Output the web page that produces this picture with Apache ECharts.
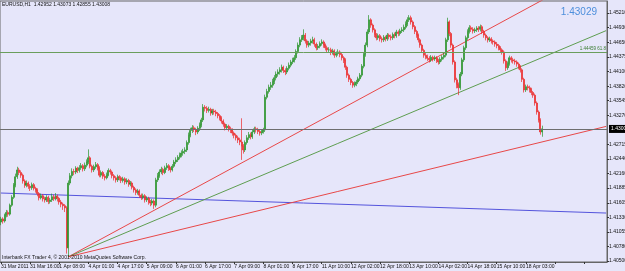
<!DOCTYPE html>
<html>
<head>
<meta charset="utf-8">
<script src="https://cdn.jsdelivr.net/npm/echarts@6/dist/echarts.min.js"></script>
<style>
  html, body { margin: 0; padding: 0; background: #e6e6fa; }
  #main { width: 625px; height: 271px; }
</style>
</head>
<body>
<div id="main"></div>
<script>
// EURUSD H1, hourly bars from 31 Mar 2011 00:00 to 18 Apr 12:00
// each row: [open, close, low, high] in 1/10000 above 1.0000 (4128 = 1.4128)
var candles = [
  [4124,4130,4118,4134],[4130,4126,4121,4133],[4126,4137,4123,4140],[4137,4142,4133,4147],[4142,4139,4134,4146],[4139,4156,4136,4159],
  [4156,4171,4153,4175],[4171,4194,4168,4198],[4194,4210,4190,4216],[4210,4223,4206,4229],[4223,4218,4213,4227],[4218,4213,4208,4222],
  [4213,4202,4197,4216],[4202,4194,4189,4205],[4194,4198,4190,4203],[4198,4192,4187,4201],[4192,4189,4183,4196],[4189,4195,4185,4199],
  [4195,4188,4184,4198],[4188,4185,4180,4191],[4185,4178,4173,4188],[4178,4170,4165,4181],[4170,4174,4167,4178],[4174,4168,4163,4177],
  [4168,4166,4161,4172],[4166,4171,4162,4175],[4171,4163,4158,4174],[4163,4166,4159,4170],[4166,4172,4162,4178],[4172,4168,4164,4176],
  [4168,4173,4165,4179],[4173,4169,4163,4176],[4169,4162,4157,4172],[4162,4158,4152,4166],[4158,4155,4147,4161],[4155,4151,4143,4158],
  [4151,4075,4064,4154],[4075,4198,4058,4203],[4198,4212,4194,4217],[4212,4220,4207,4226],[4220,4219,4213,4225],[4219,4226,4215,4230],
  [4226,4222,4217,4229],[4222,4227,4218,4232],[4227,4231,4223,4236],[4231,4225,4220,4234],[4225,4232,4221,4237],[4232,4238,4228,4243],
  [4238,4246,4234,4262],[4246,4230,4226,4249],[4230,4223,4218,4233],[4223,4229,4219,4233],[4229,4233,4225,4238],[4233,4227,4222,4236],
  [4227,4213,4209,4230],[4213,4218,4209,4222],[4218,4211,4206,4221],[4211,4208,4203,4215],[4208,4214,4205,4218],[4214,4222,4211,4226],
  [4222,4219,4214,4225],[4219,4212,4207,4222],[4212,4208,4203,4215],[4208,4204,4199,4211],[4204,4210,4200,4214],[4210,4208,4203,4213],
  [4208,4203,4198,4211],[4203,4206,4199,4210],[4206,4200,4195,4209],[4200,4203,4196,4207],[4203,4196,4191,4206],[4196,4198,4192,4202],
  [4198,4190,4186,4201],[4190,4185,4180,4193],[4185,4180,4175,4188],[4180,4183,4176,4187],[4183,4175,4170,4186],[4175,4171,4166,4178],
  [4171,4174,4167,4178],[4174,4166,4161,4177],[4166,4169,4162,4173],[4169,4162,4157,4172],[4162,4160,4154,4166],[4160,4164,4156,4168],
  [4164,4156,4149,4167],[4156,4204,4152,4208],[4204,4212,4200,4217],[4212,4219,4208,4224],[4219,4224,4215,4229],[4224,4218,4213,4227],
  [4218,4227,4215,4231],[4227,4231,4223,4236],[4231,4226,4221,4234],[4226,4223,4218,4229],[4223,4230,4220,4234],[4230,4238,4227,4242],
  [4238,4242,4234,4247],[4242,4247,4238,4251],[4247,4251,4243,4256],[4251,4255,4247,4260],[4255,4258,4250,4263],[4258,4261,4253,4266],
  [4261,4275,4257,4279],[4275,4289,4271,4294],[4289,4298,4285,4303],[4298,4303,4293,4308],[4303,4300,4295,4307],[4300,4295,4289,4303],
  [4295,4302,4291,4306],[4302,4308,4297,4313],[4308,4318,4304,4322],[4318,4342,4314,4348],[4342,4340,4334,4346],[4340,4336,4331,4344],
  [4336,4338,4332,4343],[4338,4331,4326,4341],[4331,4335,4327,4339],[4335,4333,4328,4339],[4333,4330,4325,4337],[4330,4326,4321,4333],
  [4326,4322,4317,4329],[4322,4316,4311,4325],[4316,4310,4305,4319],[4310,4303,4298,4313],[4303,4306,4299,4310],[4306,4301,4296,4309],
  [4301,4299,4293,4305],[4299,4293,4288,4302],[4293,4289,4283,4296],[4289,4284,4279,4292],[4284,4280,4274,4288],[4280,4276,4270,4284],
  [4276,4268,4242,4321],[4268,4261,4254,4272],[4261,4275,4257,4279],[4275,4284,4271,4289],[4284,4290,4280,4295],[4290,4286,4281,4294],
  [4286,4295,4282,4299],[4295,4301,4291,4305],[4301,4299,4294,4305],[4299,4296,4291,4303],[4296,4293,4288,4300],[4293,4296,4289,4300],
  [4296,4299,4292,4303],[4299,4361,4295,4366],[4361,4372,4357,4377],[4372,4380,4368,4385],[4380,4384,4375,4390],[4384,4391,4379,4396],
  [4391,4398,4386,4403],[4398,4405,4393,4410],[4405,4409,4400,4414],[4409,4413,4404,4418],[4413,4418,4408,4423],[4418,4412,4407,4421],
  [4412,4409,4403,4416],[4409,4416,4405,4420],[4416,4422,4412,4427],[4422,4428,4418,4432],[4428,4431,4424,4436],[4431,4436,4427,4441],
  [4436,4448,4432,4452],[4448,4460,4444,4465],[4460,4470,4456,4475],[4470,4474,4466,4479],[4474,4479,4469,4490],[4479,4468,4463,4483],
  [4468,4460,4455,4471],[4460,4464,4456,4468],[4464,4468,4459,4472],[4468,4470,4463,4476],[4470,4462,4457,4474],[4462,4455,4450,4465],
  [4455,4458,4451,4462],[4458,4463,4454,4467],[4463,4466,4459,4471],[4466,4460,4455,4469],[4460,4455,4450,4463],[4455,4451,4446,4459],
  [4451,4451,4446,4456],[4451,4446,4441,4455],[4446,4449,4442,4453],[4449,4441,4436,4452],[4441,4444,4437,4448],[4444,4447,4440,4452],
  [4447,4442,4437,4450],[4442,4436,4431,4445],[4436,4432,4426,4439],[4432,4418,4413,4435],[4418,4403,4398,4421],[4403,4395,4390,4406],
  [4395,4389,4384,4398],[4389,4384,4379,4392],[4384,4387,4380,4391],[4387,4390,4382,4394],[4390,4396,4386,4400],[4396,4403,4392,4407],
  [4403,4420,4399,4424],[4420,4442,4416,4446],[4442,4460,4438,4465],[4460,4485,4456,4490],[4485,4508,4481,4517],[4508,4498,4493,4511],
  [4498,4489,4484,4501],[4489,4480,4475,4492],[4480,4474,4469,4483],[4474,4478,4470,4482],[4478,4472,4467,4481],[4472,4470,4465,4476],
  [4470,4475,4466,4479],[4475,4472,4467,4478],[4472,4479,4468,4483],[4479,4476,4471,4482],[4476,4474,4469,4480],[4474,4480,4470,4484],
  [4480,4478,4473,4484],[4478,4485,4474,4489],[4485,4482,4477,4488],[4482,4487,4478,4491],[4487,4489,4483,4494],[4489,4494,4485,4499],
  [4494,4500,4490,4505],[4500,4508,4496,4513],[4508,4512,4504,4517],[4512,4504,4499,4516],[4504,4495,4490,4507],[4495,4486,4481,4498],
  [4486,4479,4474,4489],[4479,4470,4465,4482],[4470,4460,4455,4473],[4460,4450,4445,4463],[4450,4441,4436,4453],[4441,4438,4433,4445],
  [4438,4435,4430,4442],[4435,4432,4427,4439],[4432,4437,4428,4441],[4437,4434,4429,4440],[4434,4436,4430,4440],[4436,4431,4426,4439],
  [4431,4428,4423,4434],[4428,4433,4424,4437],[4433,4437,4429,4441],[4437,4441,4433,4446],[4441,4470,4437,4474],[4470,4504,4466,4512],
  [4504,4482,4477,4507],[4482,4460,4455,4485],[4460,4428,4423,4463],[4428,4394,4389,4431],[4394,4385,4378,4398],[4385,4379,4365,4389],
  [4379,4405,4375,4409],[4405,4432,4401,4436],[4432,4455,4428,4459],[4455,4474,4451,4478],[4474,4486,4470,4490],[4486,4493,4482,4498],
  [4493,4490,4485,4497],[4490,4487,4482,4494],[4487,4489,4483,4493],[4489,4492,4485,4496],[4492,4490,4485,4496],[4490,4495,4486,4499],
  [4495,4486,4481,4498],[4486,4479,4474,4489],[4479,4474,4469,4482],[4474,4470,4465,4477],[4470,4472,4466,4476],[4472,4468,4463,4475],
  [4468,4466,4461,4471],[4466,4462,4457,4469],[4462,4459,4454,4466],[4459,4455,4450,4462],[4455,4451,4446,4458],[4451,4447,4442,4454],
  [4447,4430,4425,4450],[4430,4417,4411,4433],[4417,4425,4413,4429],[4425,4436,4421,4440],[4436,4432,4427,4439],[4432,4430,4425,4436],
  [4430,4428,4423,4434],[4428,4424,4419,4431],[4424,4419,4414,4427],[4419,4413,4408,4422],[4413,4395,4390,4416],[4395,4375,4370,4398],
  [4375,4381,4371,4385],[4381,4379,4374,4385],[4379,4376,4370,4383],[4376,4370,4365,4379],[4370,4365,4360,4373],[4365,4350,4345,4368],
  [4350,4333,4328,4353],[4333,4318,4313,4336],[4318,4295,4290,4321],[4295,4301,4286,4307]
];

// labels every 16 bars
var tickLabels = ['31 Mar 2011', '31 Mar 16:00', '1 Apr 08:00', '4 Apr 01:00', '4 Apr 17:00', '5 Apr 09:00',
  '6 Apr 01:00', '6 Apr 17:00', '7 Apr 09:00', '8 Apr 01:00', '8 Apr 17:00', '11 Apr 10:00', '12 Apr 02:00',
  '12 Apr 18:00', '13 Apr 10:00', '14 Apr 02:00', '14 Apr 18:00', '15 Apr 10:00', '18 Apr 03:00'];

var priceTicks = [1.40500, 1.40780, 1.41055, 1.41330, 1.41605, 1.41885, 1.42160, 1.42440, 1.42715,
  1.43270, 1.43545, 1.43820, 1.44100, 1.44375, 1.44650, 1.44930, 1.45210];

var slotCount = 333;          // bar slots across the chart incl. empty space on the right
var bidPrice = 1.43008;
var askPrice = 1.43029;
var fibLevel = 1.44459;
var ohlcTitle = 'EURUSD,H1  1.42952 1.43073 1.42855 1.43008';

// trend lines: [startBar, startPrice, endBar, endPrice]
var fanRedUpper = [37, 1.40580, 332, 1.46111];
var fanGreen = [37, 1.40580, 332, 1.44875];
var fanRedLower = [37, 1.40580, 332, 1.43056];
var blueLine = [0, 1.41791, 332, 1.41411];

var cats = [];
for (var i = 0; i < slotCount; i++) cats.push(i);

var data = candles.map(function (r) {
  return [1 + r[0] / 10000, 1 + r[1] / 10000, 1 + r[2] / 10000, 1 + r[3] / 10000];
});

function seg(l, color) {
  return {
    type: 'line', data: [[l[0], l[1]], [l[2], l[3]]], symbol: 'none', silent: true,
    clip: true, lineStyle: { color: color, width: 1 }, z: 1
  };
}

var chart = echarts.init(document.getElementById('main'));
var font = 'Liberation Sans';

chart.setOption({
  animation: false,
  backgroundColor: '#e6e6fa',
  textStyle: { fontFamily: font },
  title: [
    { text: ohlcTitle, left: 2, top: 2, padding: 0,
      textStyle: { fontSize: 5, fontWeight: 'normal', color: '#111', fontFamily: font } },
    { text: askPrice.toFixed(5), right: 28, top: 7, padding: 0,
      textStyle: { fontSize: 10, fontWeight: 'normal', color: '#4d8fdc', fontFamily: font } },
    { text: 'Interbank FX Trader 4, © 2001-2010 MetaQuotes Software Corp.', left: 2, top: 255, padding: 0,
      textStyle: { fontSize: 5, fontWeight: 'normal', color: '#111', fontFamily: font } }
  ],
  grid: { left: 0, right: 18, top: 1, bottom: 9, show: true, borderColor: '#666', borderWidth: 1,
    backgroundColor: 'transparent', containLabel: false, outerBoundsMode: 'none' },
  xAxis: {
    type: 'category', data: cats, boundaryGap: true,
    axisLine: { lineStyle: { color: '#666' } },
    axisTick: { show: true, interval: 15, alignWithLabel: true, length: 2, lineStyle: { color: '#333' } },
    axisLabel: {
      interval: 15, align: 'left', margin: 2, fontSize: 5, color: '#111', fontFamily: font,
      formatter: function (v, idx) { return tickLabels[idx / 16] || ''; }
    },
    splitLine: { show: false }
  },
  yAxis: {
    type: 'value', position: 'right', scale: true,
    min: 1.40481, max: 1.45438,
    axisLine: { show: true, lineStyle: { color: '#666' } },
    axisTick: { show: true, length: 2, customValues: priceTicks, lineStyle: { color: '#333' } },
    axisLabel: {
      customValues: priceTicks, margin: 2, fontSize: 5, color: '#111', fontFamily: font,
      formatter: function (v) { return v.toFixed(5); }
    },
    splitLine: { show: false }
  },
  series: [
    seg(blueLine, '#5454dc'),
    seg(fanRedUpper, '#e84848'),
    seg(fanGreen, '#5e9e50'),
    seg(fanRedLower, '#e84848'),
    {
      type: 'candlestick', data: data, barWidth: 1.5, z: 3,
      itemStyle: {
        color: '#2a942a', color0: '#ec2a2a',
        borderColor: '#2a942a', borderColor0: '#ec2a2a', borderWidth: 0.7
      },
      markLine: {
        silent: true, symbol: 'none', animation: false, precision: 5,
        data: [
          { yAxis: bidPrice, lineStyle: { color: '#6e6e6e', width: 1, type: 'solid' },
            label: { show: true, position: 'end', distance: 2, formatter: bidPrice.toFixed(5),
              backgroundColor: '#000', color: '#fff', fontSize: 5, padding: [2, 2, 1, 2], fontFamily: font } },
          { yAxis: fibLevel, lineStyle: { color: '#6a9e5c', width: 1, type: 'solid' },
            label: { show: true, position: 'insideEndTop', distance: 1, formatter: fibLevel.toFixed(5) + ' 61.8',
              color: '#3b7d32', fontSize: 4.5, fontFamily: font } }
        ]
      }
    }
  ]
});
</script>
</body>
</html>
